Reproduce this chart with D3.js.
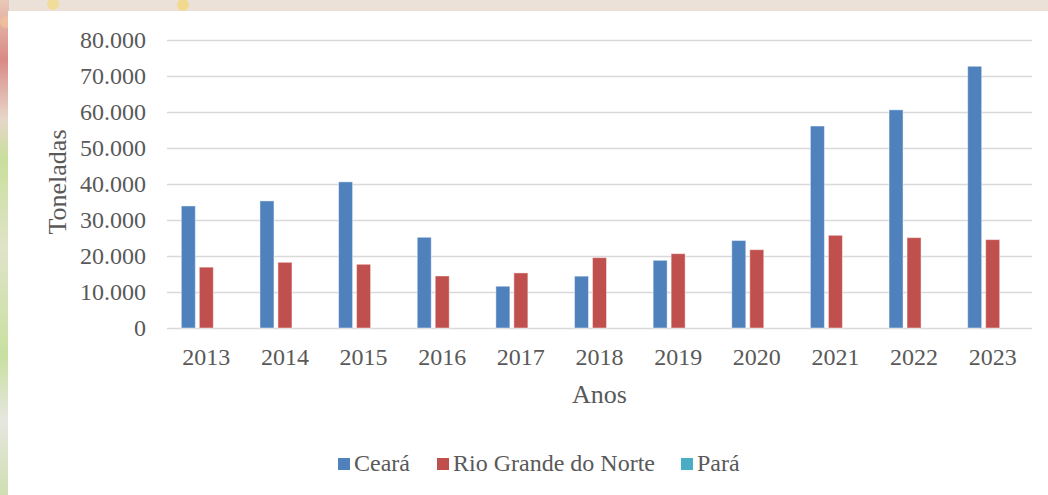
<!DOCTYPE html>
<html>
<head>
<meta charset="utf-8">
<script src="https://cdn.jsdelivr.net/npm/d3@7"></script>
<style>
	body { margin: 0; padding: 0; }
	svg { display: block; }
	text { font-family: "Liberation Serif", "Times New Roman", serif; fill: #595959; }
	.grid line { stroke: #d9d9d9; stroke-width: 1.5; }
	.grid path { display: none; }
</style>
</head>
<body>
<div id="chartContainer"></div>
<script>
//data
var years = ["2013", "2014", "2015", "2016", "2017", "2018", "2019", "2020", "2021", "2022", "2023"];
var series = ["Ceará", "Rio Grande do Norte", "Pará"];
var ceara = [33900, 35300, 40600, 25200, 11600, 14400, 18800, 24300, 56100, 60600, 72700];
var rioGrande = [16900, 18250, 17700, 14450, 15300, 19550, 20650, 21750, 25750, 25100, 24550];
var para = [0, 0, 0, 0, 0, 0, 0, 0, 0, 0, 0];
var yTicks = [0, 10000, 20000, 30000, 40000, 50000, 60000, 70000, 80000];
var colors = ["#4f81bd", "#c0504d", "#4bacc6"];

var W = 1048, H = 495;
var svg = d3.select("#chartContainer").append("svg")
	.attr("width", W)
	.attr("height", H);

//textured backdrop round the white panel (rough approximation)
var defs = svg.append("defs");
var leftGrad = defs.append("linearGradient").attr("id", "leftGrad")
	.attr("x1", 0).attr("y1", 0).attr("x2", 0).attr("y2", 1);
leftGrad.append("stop").attr("offset", "0%").attr("stop-color", "#e9c9b8");
leftGrad.append("stop").attr("offset", "12%").attr("stop-color", "#d98a86");
leftGrad.append("stop").attr("offset", "24%").attr("stop-color", "#e7d6c9");
leftGrad.append("stop").attr("offset", "32%").attr("stop-color", "#c9df9c");
leftGrad.append("stop").attr("offset", "50%").attr("stop-color", "#dfe3c8");
leftGrad.append("stop").attr("offset", "72%").attr("stop-color", "#c8e0a0");
leftGrad.append("stop").attr("offset", "85%").attr("stop-color", "#e6e6e0");
leftGrad.append("stop").attr("offset", "100%").attr("stop-color", "#cfdfb0");

svg.append("rect").attr("width", W).attr("height", H).attr("fill", "#ebe1d8");
svg.append("rect").attr("width", 9).attr("height", H).attr("fill", "url(#leftGrad)");
[[53, 4, "#f3dc8a"], [183, 5, "#f2d77a"], [6, 22, "#f0c09a"]].forEach(function(s) {
	svg.append("ellipse").attr("cx", s[0]).attr("cy", s[1]).attr("rx", 6).attr("ry", 6).attr("fill", s[2]).attr("opacity", 0.8);
});

//white chart panel
svg.append("rect")
	.attr("x", 8).attr("y", 11)
	.attr("width", W - 8).attr("height", H - 11)
	.attr("fill", "#ffffff");

var margin = {top: 40, right: 16, bottom: 167, left: 167};
var graph_w = W - margin.left - margin.right;
var graph_h = H - margin.top - margin.bottom;
var g = svg.append("g")
	.attr("transform", "translate(" + margin.left + "," + margin.top + ")");

var x0 = d3.scaleBand()
	.domain(years)
	.range([0, graph_w])
	.padding(0);

var groupW = 50;
var x1 = d3.scaleBand()
	.domain(series)
	.range([0, groupW])
	.paddingInner(0.222);

var y = d3.scaleLinear()
	.domain([0, 80000])
	.range([graph_h, 0]);

var fmt = function(d) { return d3.format(",")(d).replace(/,/g, "."); };

// y gridlines
g.append("g")
	.attr("class", "grid")
	.call(d3.axisLeft(y)
		.tickValues(yTicks)
		.tickSize(-graph_w)
		.tickFormat(""));

// y tick labels
g.append("g")
	.selectAll("text")
	.data(yTicks)
	.enter().append("text")
	.attr("x", -21)
	.attr("y", function(d) { return y(d); })
	.attr("dy", "0.34em")
	.attr("text-anchor", "end")
	.style("font-size", "24px")
	.text(fmt);

// x tick labels
g.append("g")
	.selectAll("text")
	.data(years)
	.enter().append("text")
	.attr("x", function(d) { return x0(d) + x0.bandwidth() / 2; })
	.attr("y", graph_h + 37)
	.attr("text-anchor", "middle")
	.style("font-size", "24px")
	.text(function(d) { return d; });

// bars
var allVals = [ceara, rioGrande, para];
series.forEach(function(s, si) {
	g.append("g")
		.selectAll("rect")
		.data(allVals[si])
		.enter().append("rect")
		.attr("x", function(d, i) { return x0(years[i]) + (x0.bandwidth() - groupW) / 2 + x1(s); })
		.attr("y", function(d) { return y(d); })
		.attr("width", x1.bandwidth())
		.attr("height", function(d) { return graph_h - y(d); })
		.attr("fill", colors[si])
		.attr("stroke", "rgba(255,255,255,0.45)")
		.attr("stroke-width", function(d) { return d > 0 ? 1 : 0; });
});

// axis titles
g.append("text")
	.attr("x", graph_w / 2)
	.attr("y", graph_h + 75)
	.attr("text-anchor", "middle")
	.style("font-size", "26px")
	.text("Anos");

g.append("text")
	.attr("transform", "rotate(-90)")
	.attr("x", -graph_h / 2 + 2)
	.attr("y", -101)
	.attr("text-anchor", "middle")
	.style("font-size", "26px")
	.text("Toneladas");

// legend
var legendX = [338, 437, 681];
var legend = svg.append("g").attr("class", "legend");
series.forEach(function(s, si) {
	legend.append("rect")
		.attr("x", legendX[si])
		.attr("y", 458)
		.attr("width", 12)
		.attr("height", 12)
		.attr("fill", colors[si]);
	legend.append("text")
		.attr("x", legendX[si] + 16)
		.attr("y", 471)
		.style("font-size", "24px")
		.text(s);
});
</script>
</body>
</html>
